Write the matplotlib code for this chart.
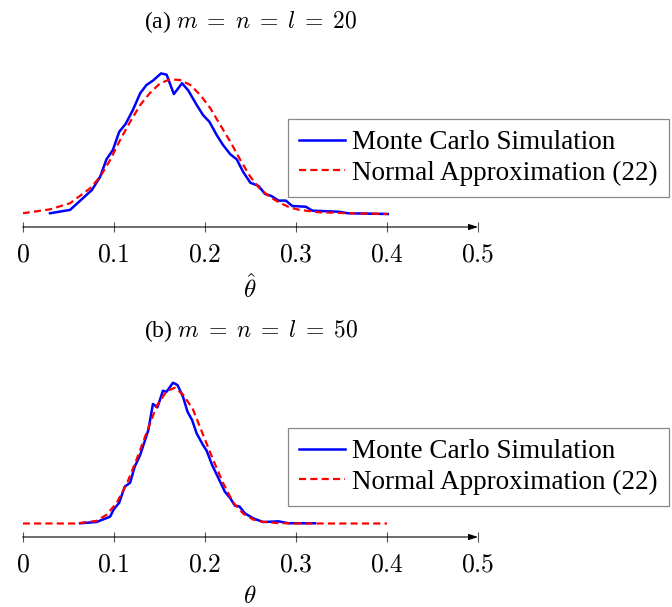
import matplotlib
matplotlib.use('Agg')
import matplotlib.pyplot as plt
import numpy as np

plt.rcParams['font.family'] = ['Liberation Serif', 'DejaVu Serif']
plt.rcParams['mathtext.fontset'] = 'cm'

# (a) m = n = l = 20
mc_a_x = [0.030, 0.052, 0.076, 0.085, 0.092, 0.099, 0.106, 0.113, 0.121, 0.129,
          0.136, 0.143, 0.152, 0.158, 0.166, 0.175, 0.182, 0.190, 0.198, 0.205,
          0.213, 0.220, 0.228, 0.235, 0.242, 0.250, 0.259, 0.266, 0.273, 0.281,
          0.289, 0.296, 0.311, 0.318, 0.348, 0.357, 0.401]
mc_a_y = [0.04, 0.22, 1.29, 2.00, 2.94, 3.44, 4.42, 4.84, 5.59, 6.49,
          6.94, 7.17, 7.56, 7.49, 6.45, 7.03, 6.63, 5.95, 5.32, 4.96,
          4.25, 3.71, 3.21, 2.94, 2.27, 1.68, 1.51, 1.08, 0.97, 0.72,
          0.72, 0.43, 0.39, 0.18, 0.12, 0.04, 0.0]
na_a_x = [0.0, 0.030, 0.052, 0.074, 0.085, 0.096, 0.107, 0.118, 0.129, 0.140,
          0.151, 0.162, 0.173, 0.184, 0.195, 0.206, 0.217, 0.228, 0.239, 0.250,
          0.260, 0.271, 0.282, 0.293, 0.304, 0.326, 0.359, 0.401]
na_a_y = [0.04, 0.25, 0.58, 1.38, 2.00, 2.90, 3.98, 4.96, 5.86, 6.52,
          7.03, 7.24, 7.20, 6.94, 6.40, 5.69, 4.78, 3.89, 2.90, 2.00,
          1.38, 0.93, 0.61, 0.36, 0.22, 0.09, 0.04, 0.0]

# (b) m = n = l = 50
mc_b_x = [0.063, 0.081, 0.096, 0.100, 0.106, 0.112, 0.118, 0.123, 0.129, 0.138,
          0.143, 0.148, 0.154, 0.158, 0.165, 0.170, 0.176, 0.181, 0.186, 0.191,
          0.198, 0.202, 0.208, 0.215, 0.222, 0.228, 0.233, 0.238, 0.244, 0.253,
          0.264, 0.281, 0.292, 0.321]
mc_b_y = [0.02, 0.13, 0.60, 1.25, 1.83, 3.24, 3.59, 5.00, 6.03, 8.23,
          10.52, 10.23, 11.69, 11.60, 12.39, 12.19, 11.16, 9.84, 9.11, 7.94,
          6.91, 6.41, 5.15, 3.98, 2.80, 2.22, 1.57, 1.50, 0.90, 0.46,
          0.13, 0.19, 0.02, 0.02]
na_b_x = [0.0, 0.059, 0.081, 0.092, 0.103, 0.114, 0.125, 0.136, 0.147, 0.158,
          0.167, 0.176, 0.187, 0.198, 0.209, 0.220, 0.231, 0.242, 0.253, 0.264,
          0.278, 0.300, 0.400]
na_b_y = [0.0, 0.0, 0.23, 0.76, 1.80, 3.43, 5.63, 7.98, 10.33, 11.65,
          11.95, 11.36, 10.04, 7.83, 5.63, 3.57, 1.87, 0.88, 0.35, 0.15,
          0.05, 0.0, 0.0]

xticks = [0, 0.1, 0.2, 0.3, 0.4, 0.5]
xtick_labels = ['$0$', '$0.1$', '$0.2$', '$0.3$', '$0.4$', '$0.5$']

W, H = 672, 607
fig = plt.figure(figsize=(W / 100, H / 100), dpi=100)


def panel(top_px, bot_px, ylim, mc_x, mc_y, na_x, na_y, title, xlabel,
          title_px, xlabel_px, leg_px):
    ax = fig.add_axes([22.7 / W, 1 - bot_px / H, 455.3 / W, (bot_px - top_px) / H])
    ax.plot(mc_x, mc_y, color=(0, 0, 1), lw=1.8, label='Monte Carlo Simulation',
            solid_joinstyle='round')
    ax.plot(na_x, na_y, color=(1, 0, 0), lw=1.6, ls=(0, (3.2, 1.9)),
            label='Normal Approximation (22)')
    ax.set_xlim(0, 0.5)
    ax.set_ylim(*ylim)
    for s in ax.spines.values():
        s.set_visible(False)
    ax.set_yticks([])
    ax.set_xticks(xticks)
    ax.set_xticklabels(xtick_labels, fontsize=18.5)
    ax.tick_params(axis='x', direction='inout', length=7.5, width=0.8,
                   color='#555555', pad=9)
    ax.annotate('', xy=(1.0, 0), xytext=(0, 0), xycoords='axes fraction',
                arrowprops=dict(arrowstyle='-|>,head_length=0.55,head_width=0.18',
                                color='black', lw=0.8, shrinkA=0, shrinkB=0))
    fig.text(251 / W, 1 - title_px / H, title, ha='center', va='center', fontsize=17)
    fig.text(250 / W, 1 - xlabel_px / H, xlabel, ha='center', va='center', fontsize=18)
    leg = ax.legend(loc='upper left', bbox_to_anchor=(leg_px[0] / W, 1 - leg_px[1] / H),
                    bbox_transform=fig.transFigure, fontsize=19.5, frameon=True,
                    fancybox=False, edgecolor='#888888', framealpha=1,
                    handlelength=1.67, handletextpad=0.26, borderpad=0.42,
                    labelspacing=0.2, borderaxespad=0)
    leg.get_frame().set_linewidth(0.9)
    return ax


panel(60, 227, (-13 / 18.6, (214 - 60) / 18.6), mc_a_x, mc_a_y, na_a_x, na_a_y,
      r'(a) $m\;=\;n\;=\;l\;=\;20$', r'$\hat{\theta}$', 22, 289, (288, 119))
panel(370, 537, (-13.5 / 11.36, (523.5 - 370) / 11.36), mc_b_x, mc_b_y, na_b_x, na_b_y,
      r'(b) $m\;=\;n\;=\;l\;=\;50$', r'$\theta$', 331, 597, (288, 428))

fig.savefig('out.png', dpi=100)
